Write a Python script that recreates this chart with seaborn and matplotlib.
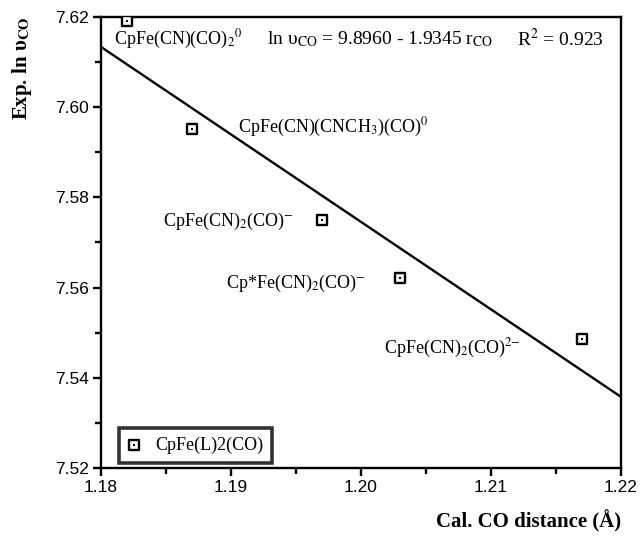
import numpy as np
import pandas as pd
import matplotlib
matplotlib.use("Agg")
import matplotlib.pyplot as plt
from matplotlib.ticker import MultipleLocator, FormatStrFormatter
import seaborn as sns

# data
r_co = [1.182, 1.187, 1.197, 1.203, 1.217]
ln_v = [7.6192, 7.5951, 7.5750, 7.5622, 7.5485]
series_name = "CpFe(L)2(CO)"

labels = [
    r"CpFe(CN)(CO)$_2$$^0$",
    r"CpFe(CN)(CNCH$_3$)(CO)$^0$",
    r"CpFe(CN)$_2$(CO)$^{\mathsf{-}}$",
    r"Cp*Fe(CN)$_2$(CO)$^{\mathsf{-}}$",
    r"CpFe(CN)$_2$(CO)$^{2\mathsf{-}}$",
]
label_x = [1.1810, 1.1905, 1.1848, 1.1896, 1.2018]
label_y = [7.6150, 7.5956, 7.5746, 7.5610, 7.5466]

equation = r"ln υ$_{\mathrm{CO}}$ = 9.8960 - 1.9345 r$_{\mathrm{CO}}$"
r_squared = r"R$^2$ = 0.923"

df = pd.DataFrame({"r": r_co, "lnv": ln_v})

sns.set_style("ticks")
plt.rcParams["font.family"] = ["Liberation Sans", "DejaVu Sans"]
plt.rcParams["mathtext.fontset"] = "stix"
plt.rcParams.update({"axes.edgecolor": "black", "xtick.color": "black",
                     "ytick.color": "black", "text.color": "black",
                     "axes.labelcolor": "black"})

fig = plt.figure(figsize=(6.42, 5.36), dpi=100)
ax = fig.add_axes([101 / 642, 1 - 468 / 536, 520 / 642, 451 / 536])
ax.set_xlim(1.18, 1.22)
ax.set_ylim(7.52, 7.62)

# regression line across the whole axis
sns.regplot(data=df, x="r", y="lnv", ax=ax, scatter=False, ci=None,
            truncate=False, color="black", line_kws={"lw": 1.7})

# open square markers with a dot inside
sns.scatterplot(data=df, x="r", y="lnv", ax=ax, marker="s", s=42,
                facecolor="white", edgecolor="black", linewidth=1.7, zorder=5)
sns.scatterplot(data=df, x="r", y="lnv", ax=ax, marker="s", s=3,
                color="black", linewidth=0, zorder=6)

ax.set_xlim(1.18, 1.22)
ax.set_ylim(7.52, 7.62)

serif = ["Liberation Serif", "DejaVu Serif"]
for t, x, y in zip(labels, label_x, label_y):
    ax.text(x, y, t, family=serif, fontsize=13, va="center", ha="left")
ax.text(1.1928, 7.6150, equation, family=serif, fontsize=14, va="center", ha="left")
ax.text(1.2187, 7.6150, r_squared, family=serif, fontsize=14, va="center", ha="right")

# legend
h1 = ax.scatter([], [], marker="s", s=42, facecolor="white", edgecolor="black", linewidth=1.7)
h2 = ax.scatter([], [], marker="s", s=3, color="black", linewidth=0)
leg = ax.legend([(h1, h2)], [series_name], loc="lower left",
                bbox_to_anchor=(0.035, 0.011), frameon=True, fancybox=False,
                prop={"family": serif, "size": 13}, handletextpad=0.9,
                borderpad=0.5, handlelength=0.6, borderaxespad=0)
leg.get_frame().set_edgecolor("black")
leg.get_frame().set_linewidth(2.6)

ax.xaxis.set_major_locator(MultipleLocator(0.01))
ax.xaxis.set_minor_locator(MultipleLocator(0.005))
ax.yaxis.set_major_locator(MultipleLocator(0.02))
ax.yaxis.set_minor_locator(MultipleLocator(0.01))
ax.xaxis.set_major_formatter(FormatStrFormatter("%.2f"))
ax.yaxis.set_major_formatter(FormatStrFormatter("%.2f"))
ax.tick_params(which="major", direction="out", length=6, width=1.7, labelsize=12.5, pad=3)
ax.tick_params(which="minor", direction="out", length=4, width=1.7)
for s in ax.spines.values():
    s.set_linewidth(1.7)
    s.set_visible(True)

ax.set_xlabel("")
ax.set_ylabel("")
fig.text(621 / 642, 1 - 521 / 536, "Cal. CO distance (Å)", family=serif,
         fontweight="bold", fontsize=15, ha="right", va="center")
fig.text(22 / 642, 1 - 68 / 536, r"Exp. ln υ$_{\mathbf{CO}}$", family=serif,
         fontweight="bold", fontsize=15, ha="center", va="center", rotation=90)

fig.savefig("out.png", dpi=100)
